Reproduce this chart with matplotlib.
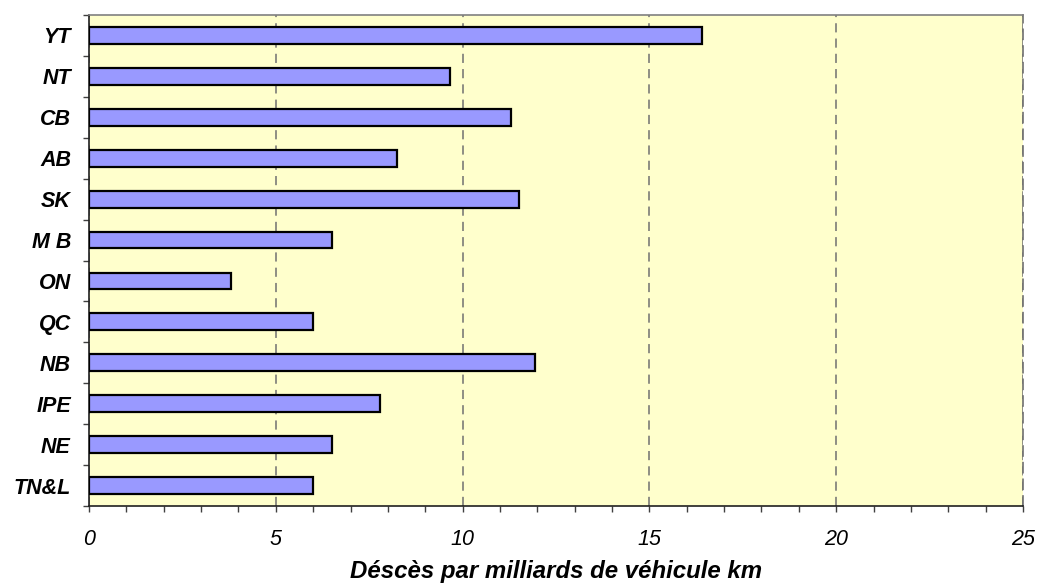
import matplotlib
matplotlib.use("Agg")
import matplotlib.pyplot as plt
from matplotlib.ticker import MultipleLocator

# provinces, top to bottom as shown
provinces = ['YT', 'NT', 'CB', 'AB', 'SK', 'M B', 'ON', 'QC', 'NB', 'IPE', 'NE', 'TN&L']
deces = [16.4, 9.65, 11.3, 8.25, 11.5, 6.5, 3.8, 6.0, 11.95, 7.78, 6.5, 6.0]

plt.rcParams['font.family'] = ['Liberation Sans', 'DejaVu Sans']

fig = plt.figure(figsize=(10.39, 5.86), dpi=100)
ax = fig.add_axes([89/1039, 80/586, 934/1039, 491/586])
ax.set_facecolor('#FFFFCC')

pos = list(range(len(provinces)))[::-1]
ax.barh(pos, deces, height=0.41, color='#9999FF', edgecolor='black', linewidth=1.6, zorder=3)

ax.set_xlim(0, 25)
ax.set_ylim(-0.5, len(provinces) - 0.5)

ax.xaxis.set_major_locator(MultipleLocator(5))
ax.xaxis.set_minor_locator(MultipleLocator(1))
ax.grid(axis='x', which='major', linestyle=(0, (6, 4)), color='#707070', linewidth=1.1, zorder=1)

# y ticks at category boundaries, labels at centres
ax.set_yticks([p - 0.5 for p in range(len(provinces) + 1)])
ax.set_yticklabels([])
ax.set_yticks(pos, minor=True)
ax.set_yticklabels(provinces, minor=True, fontsize=15.5, fontweight='bold', fontstyle='italic')
ax.tick_params(axis='y', which='minor', length=0, pad=13)
ax.tick_params(axis='y', which='major', length=4.5, width=1, color='#404040', direction='out')

ax.tick_params(axis='x', which='major', length=4.5, width=1, color='#404040', pad=12,
               labelsize=15.5)
ax.tick_params(axis='x', which='minor', length=4.5, width=1, color='#404040')
for lab in ax.get_xticklabels():
    lab.set_fontstyle('italic')

ax.spines['left'].set_color('#202020')
ax.spines['left'].set_linewidth(1.2)
ax.spines['bottom'].set_color('#202020')
ax.spines['bottom'].set_linewidth(1.2)
ax.spines['top'].set_color('#808080')
ax.spines['top'].set_linewidth(1.2)
ax.spines['right'].set_color('#707070')
ax.spines['right'].set_linestyle((0, (6, 4)))
ax.spines['right'].set_linewidth(1.2)

ax.set_xlabel('Déscès par milliards de véhicule km', fontsize=17.3, fontweight='bold',
              fontstyle='italic', labelpad=7)

fig.savefig('out.png', dpi=100)
